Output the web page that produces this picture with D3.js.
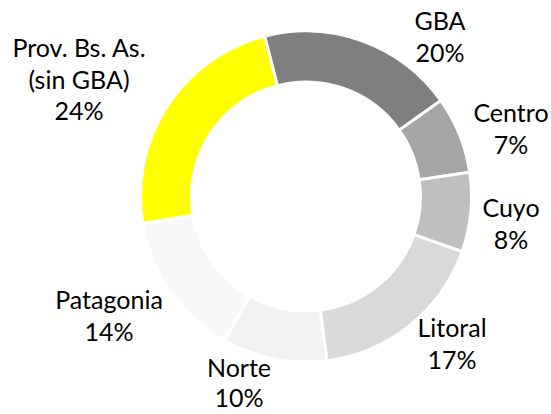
<!DOCTYPE html>
<html>
<head>
<meta charset="utf-8">
<script src="https://cdn.jsdelivr.net/npm/d3@7"></script>
<style>
  html, body { margin: 0; padding: 0; background: #fff; }
  svg { display: block; }
  text { font-family: Lato, "Open Sans", sans-serif; fill: #000; }
</style>
</head>
<body>
<svg id="chart" width="551" height="414"></svg>
<script>
// Data
const categories = ["GBA", "Centro", "Cuyo", "Litoral", "Norte", "Patagonia", "Prov. Bs. As. (sin GBA)"];
const values = [19.2, 7.5, 7.75, 17.6, 10.2, 14.2, 23.6];
const percentLabels = ["20%", "7%", "8%", "17%", "10%", "14%", "24%"];
const labelLines = [["GBA"], ["Centro"], ["Cuyo"], ["Litoral"], ["Norte"], ["Patagonia"], ["Prov. Bs. As.", "(sin GBA)"]];

const colors = ["#7f7f7f", "#a5a5a5", "#bfbfbf", "#d9d9d9", "#f2f2f2", "#f8f8f8", "#ffff00"];
// label anchor positions (center x, first baseline y)
const labelPos = [[440, 30], [511, 122], [511, 217], [452, 337], [239, 377], [109, 309], [79, 57]];
const labelLineH = [31.5, 31.5, 31.5, 31.5, 30, 31.5, 31.5];

const svg = d3.select("#chart");
const cx = 306, cy = 196.5;
const startDeg = -14.5;

const pie = d3.pie().sort(null).value(d => d)
  .startAngle(startDeg * Math.PI / 180)
  .endAngle(startDeg * Math.PI / 180 + 2 * Math.PI);
const arc = d3.arc().innerRadius(114.5).outerRadius(165.5);

const g = svg.append("g").attr("transform", `translate(${cx},${cy})`);
g.selectAll("path").data(pie(values)).join("path")
  .attr("d", arc)
  .attr("fill", (d, i) => colors[i])
  .attr("stroke", "#fff")
  .attr("stroke-width", 3)
  .attr("stroke-linejoin", "miter");

const lab = svg.append("g");
categories.forEach((c, i) => {
  const lines = labelLines[i].concat([percentLabels[i]]);
  const t = lab.append("text")
    .attr("text-anchor", "middle")
    .attr("font-size", 25);
  lines.forEach((ln, j) => {
    t.append("tspan").attr("x", labelPos[i][0]).attr("y", labelPos[i][1] + j * labelLineH[i]).text(ln);
  });
});
</script>
</body>
</html>
